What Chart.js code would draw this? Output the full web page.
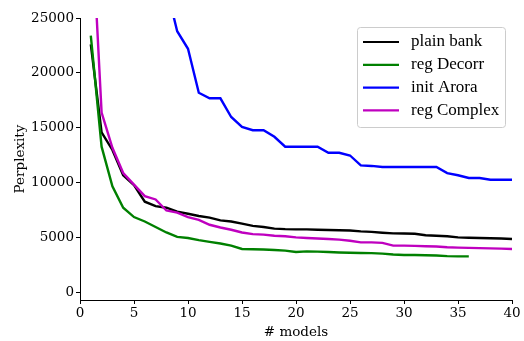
<!DOCTYPE html>
<html lang="en">
<head>
    <meta charset="UTF-8">
    <title>Perplexity vs # models</title>
    <script src="https://cdn.jsdelivr.net/npm/chart.js"></script>
    <style>
        body { margin: 0; background: #fff; }
        #wrap { width: 524px; height: 341px; }
    </style>
</head>
<body>
    <div id="wrap"><canvas id="chart" width="524" height="341"></canvas></div>

    <script>
        // values (x = number of models, starting at 1)
        var plainBank = [22600, 14600, 13000, 10700, 9800, 8300, 7900, 7750, 7400, 7200,
                         7000, 6850, 6600, 6500, 6300, 6100, 6000, 5850, 5800, 5780,
                         5780, 5750, 5720, 5700, 5680, 5600, 5550, 5480, 5420, 5400,
                         5380, 5250, 5200, 5150, 5050, 5020, 5000, 4980, 4950, 4900];
        var regDecorr = [23400, 13300, 9700, 7750, 6900, 6500, 6000, 5500, 5100, 5000,
                         4800, 4650, 4500, 4300, 4000, 3980, 3950, 3900, 3850, 3720,
                         3780, 3760, 3720, 3680, 3650, 3630, 3620, 3580, 3500, 3450,
                         3450, 3430, 3400, 3350, 3330, 3330];
        var initArora = [null, null, null, null, null, null, null, 27800, 23800, 22200,
                         18200, 17700, 17700, 16000, 15100, 14800, 14800, 14200, 13300, 13300,
                         13300, 13300, 12750, 12750, 12500, 11600, 11550, 11450, 11450, 11450,
                         11450, 11450, 11450, 10900, 10700, 10450, 10450, 10300, 10300, 10300];
        var regComplex = [35500, 16400, 13200, 10900, 9850, 8800, 8500, 7500, 7300, 6900,
                          6650, 6200, 5950, 5750, 5500, 5350, 5300, 5200, 5150, 5050,
                          5000, 4950, 4900, 4850, 4750, 4600, 4600, 4550, 4300, 4300,
                          4280, 4250, 4220, 4150, 4120, 4100, 4080, 4050, 4030, 4000];
        var seriesNames = ['plain bank', 'reg Decorr', 'init Arora', 'reg Complex'];
        var seriesColors = ['#000000', '#008000', '#0000ff', '#bf00bf'];
        var yTicks = [0, 5000, 10000, 15000, 20000, 25000];

        function toPoints(arr) {
            return arr.map(function (v, i) { return { x: i + 1, y: v }; });
        }

        var serif = "'DejaVu Serif', serif";
        var times = "'Liberation Serif', serif";

        // legend drawn inside the plot, upper right
        var boxLegend = {
            id: 'boxLegend',
            afterDatasetsDraw: function (chart) {
                var c = chart.ctx;
                var x0 = 357, y0 = 27, w = 148, h = 100;
                c.save();
                c.fillStyle = 'rgba(255,255,255,0.8)';
                c.strokeStyle = '#cccccc';
                c.lineWidth = 1;
                c.beginPath();
                c.roundRect(x0 + 0.5, y0 + 0.5, w, h, 3);
                c.fill();
                c.stroke();
                c.font = '17px ' + times;
                c.textBaseline = 'middle';
                chart.data.datasets.forEach(function (ds, i) {
                    var y = 42 + i * 22.8;
                    c.strokeStyle = ds.borderColor;
                    c.lineWidth = 2.2;
                    c.beginPath();
                    c.moveTo(363, y);
                    c.lineTo(399, y);
                    c.stroke();
                    c.fillStyle = '#000';
                    c.fillText(ds.label, 411, y);
                });
                c.restore();
            }
        };

        var ctx = document.getElementById('chart').getContext('2d');
        var chart = new Chart(ctx, {
            type: 'line',
            data: {
                datasets: [
                    { label: seriesNames[0], data: toPoints(plainBank), borderColor: seriesColors[0], order: 3 },
                    { label: seriesNames[1], data: toPoints(regDecorr), borderColor: seriesColors[1], order: 2 },
                    { label: seriesNames[2], data: toPoints(initArora), borderColor: seriesColors[2], order: 1 },
                    { label: seriesNames[3], data: toPoints(regComplex), borderColor: seriesColors[3], order: 0 }
                ]
            },
            options: {
                responsive: false,
                animation: false,
                layout: { padding: { top: 18, right: 12, left: 0, bottom: 0 } },
                elements: {
                    line: { borderWidth: 2.4, tension: 0, fill: false },
                    point: { radius: 0 }
                },
                plugins: {
                    legend: { display: false },
                    tooltip: { enabled: false }
                },
                scales: {
                    x: {
                        type: 'linear',
                        min: 0,
                        max: 40,
                        ticks: { stepSize: 5, color: '#000', padding: 1, font: { family: serif, size: 13.5 } },
                        grid: { drawOnChartArea: false, tickLength: 4, color: '#000' },
                        border: { color: '#000', width: 1 },
                        title: { display: true, text: '# models', color: '#000', font: { family: serif, size: 13.5 }, padding: { top: 3, bottom: 0 } },
                        afterFit: function (s) { s.height = 41; }
                    },
                    y: {
                        min: -640,
                        max: 25000,
                        ticks: {
                            color: '#000', padding: 2, font: { family: serif, size: 13.5 },
                            callback: function (v) { return String(v); }
                        },
                        afterBuildTicks: function (s) {
                            s.ticks = yTicks.map(function (v) { return { value: v }; });
                        },
                        grid: { drawOnChartArea: false, tickLength: 4, color: '#000' },
                        border: { color: '#000', width: 1 },
                        title: { display: true, text: 'Perplexity', color: '#000', font: { family: serif, size: 13.5 }, padding: { top: 12, bottom: 0 } },
                        afterFit: function (s) { s.width = 80; }
                    }
                }
            },
            plugins: [boxLegend]
        });
    </script>
</body>
</html>
